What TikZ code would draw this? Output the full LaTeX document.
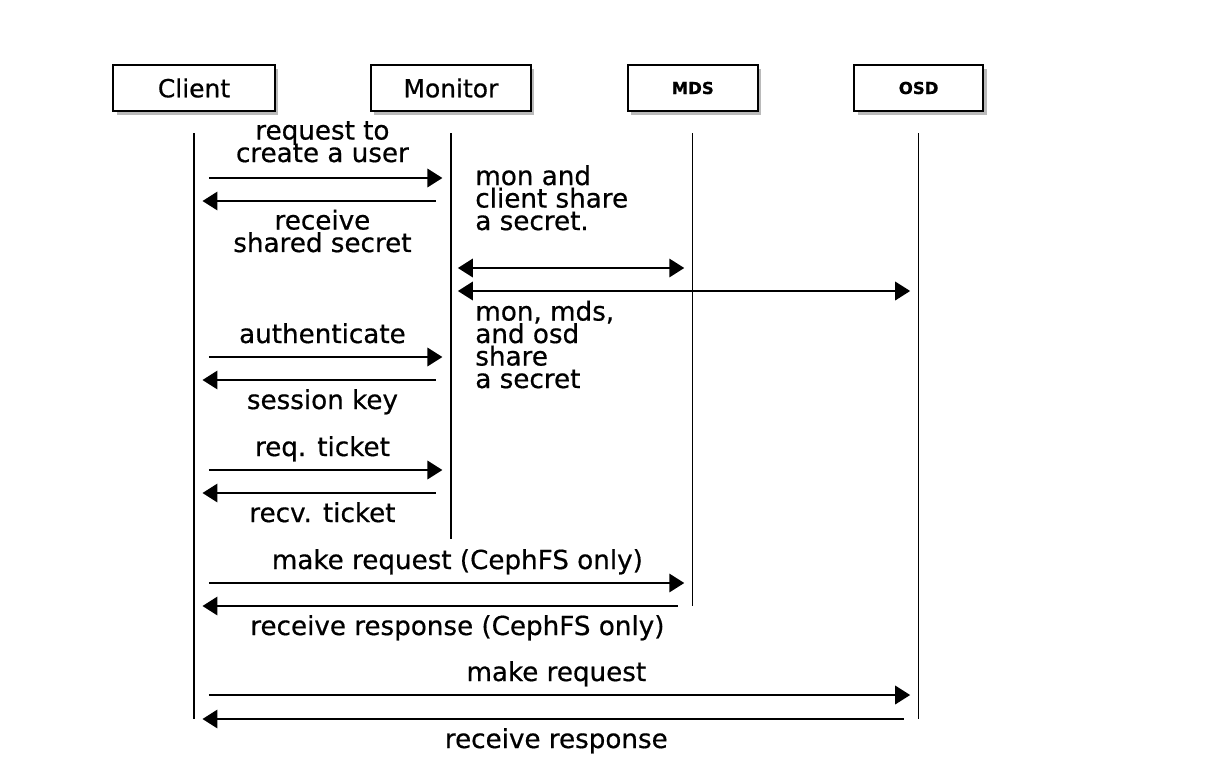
\documentclass[tikz,border=0pt]{standalone}
\usepackage{fontspec}
\setmainfont{DejaVu Sans}[FakeBold=0.6]
\usepackage{tikz}
\usetikzlibrary{
  arrows.meta,
  positioning,
  shadows
}

\begin{document}
\lineskiplimit=-20pt
\begin{tikzpicture}[
  x=0.02cm, y=-0.02cm,
  actor/.style={draw, line width=1.1pt, fill=white, minimum height=0.92cm,
    font=\fontsize{14.2}{16}\selectfont,
    drop shadow={shadow xshift=0.07cm, shadow yshift=-0.08cm, fill=black!45, opacity=0.6}},
  smallactor/.style={actor, font=\fontsize{9.4}{11}\selectfont\bfseries},
  lifeline/.style={line width=0.8pt},
  msg/.style={-{Triangle[length=8.5pt,width=10.5pt]}, line width=1.1pt, shorten <=0.3cm, shorten >=0.17cm},
  dblmsg/.style={{Triangle[length=8.5pt,width=10.5pt]}-{Triangle[length=8.5pt,width=10.5pt]}, line width=1.1pt, shorten <=0.14cm, shorten >=0.17cm},
  lbl/.style={font=\fontsize{14.9}{12.8}\selectfont, align=center, inner sep=0pt, anchor=base},
  up/.style={lbl, yshift=0.28cm},
  down/.style={lbl, yshift=-0.58cm},
  note/.style={lbl, align=left, anchor=base west},
]
  \useasboundingbox (0,0) rectangle (1211,775);

  % Participants
  \node[actor, minimum width=3.24cm] (client) at (194,88) {Client};
  \node[actor, minimum width=3.2cm, right=1.88cm of client] (monitor) {Monitor};
  \node[smallactor, minimum width=2.6cm, right=1.9cm of monitor] (mds) {MDS};
  \node[smallactor, minimum width=2.58cm, right=1.89cm of mds] (osd) {OSD};

  % Message rows
  \coordinate (top) at (0,133);
  \coordinate (monend) at (0,539);
  \foreach \r/\y in {a/178, b/201, c/268, d/291, e/357, f/380, g/470, h/493, i/583, j/606, k/695, l/719}
    \coordinate (\r) at (0,\y);

  % Lifelines
  \draw[lifeline] (client |- top) -- (client |- l);
  \draw[lifeline] (monitor |- top) -- (monitor |- monend);
  \draw[lifeline] (mds |- top) -- (mds |- j);
  \draw[lifeline] (osd |- top) -- (osd |- l);

  % Creating the user
  \draw[msg] (client |- a) -- node[up, yshift=0.04cm] {request to\\create a user} (monitor |- a);
  \draw[msg] (monitor |- b) -- node[down, yshift=-0.44cm] {receive\\shared secret} (client |- b);
  \node[note] (note1) at (475,230) {mon and\\client share\\a secret.};

  % Shared secrets
  \draw[dblmsg] (monitor |- c) -- (mds |- c);
  \draw[dblmsg] (monitor |- d) -- (osd |- d);
  \node[note] (note2) at (475,388) {mon, mds,\\and osd\\share\\a secret};

  % Authentication and tickets
  \draw[msg] (client |- e) -- node[up] {authenticate} (monitor |- e);
  \draw[msg] (monitor |- f) -- node[down] {session key} (client |- f);
  \draw[msg] (client |- g) -- node[up] {req. ticket} (monitor |- g);
  \draw[msg] (monitor |- h) -- node[down] {recv. ticket} (client |- h);

  % Requests
  \draw[msg] (client |- i) -- node[up, xshift=0.28cm] {make request (CephFS only)} (mds |- i);
  \draw[msg] (mds |- j) -- node[down, xshift=0.28cm] {receive response (CephFS only)} (client |- j);
  \draw[msg] (client |- k) -- node[up] {make request} (osd |- k);
  \draw[msg] (osd |- l) -- node[down] {receive response} (client |- l);
\end{tikzpicture}
\end{document}
